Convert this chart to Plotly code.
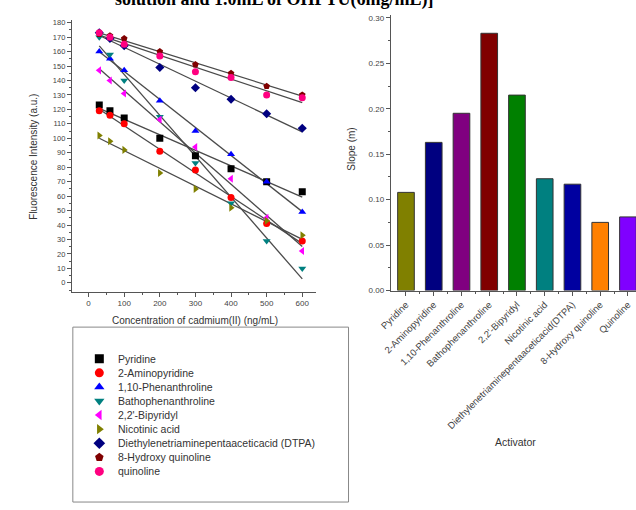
import numpy as np
import plotly.graph_objects as go

# ---- data -------------------------------------------------------------
concentration = [30, 60, 100, 200, 300, 400, 500, 600]

series_names = [
    "Pyridine", "2-Aminopyridine", "1,10-Phenanthroline", "Bathophenanthroline",
    "2,2'-Bipyridyl", "Nicotinic acid", "Diethylenetriaminepentaaceticacid (DTPA)",
    "8-Hydroxy quinoline", "quinoline",
]
pyridine = [123, 119, 114, 100, 88, 79, 70, 63]
aminopyridine = [119, 116, 110, 91, 78, 59, 41, 29]
phenanthroline = [160, 155, 147, 126, 105, 89, 70, 49]
bathophenanthroline = [170, 158, 140, 115, 83, 55, 29, 10]
bipyridyl = [147, 140, 131, 113, 94, 72, 45, 22]
nicotinic_acid = [102, 98, 92, 76, 65, 52, 43, 33]
dtpa = [173, 169, 164, 149, 135, 127, 117, 107]
hydroxyquinoline = [172, 171, 169, 160, 151, 145, 136, 130]
quinoline = [173, 170, 165, 157, 146, 142, 130, 128]
intensities = [pyridine, aminopyridine, phenanthroline, bathophenanthroline,
               bipyridyl, nicotinic_acid, dtpa, hydroxyquinoline, quinoline]

activators = ["Pyridine", "2-Aminopyridine", "1,10-Phenanthroline", "Bathophenanthroline",
              "2,2'-Bipyridyl", "Nicotinic acid", "Diethylenetriaminepentaaceticacid(DTPA)",
              "8-Hydroxy quinoline", "Quinoline"]
slopes = [0.108, 0.163, 0.195, 0.283, 0.215, 0.123, 0.117, 0.075, 0.081]

# ---- styles -----------------------------------------------------------
marker_colors = ["#000000", "#FF0000", "#0000FF", "#008080", "#FF00FF",
                 "#808000", "#000080", "#800000", "#FF0080"]
marker_symbols = ["square", "circle", "triangle-up", "triangle-down", "triangle-left",
                  "triangle-right", "diamond", "pentagon", "circle"]
bar_colors = ["#808000", "#000080", "#800080", "#800000", "#008000",
              "#008080", "#0000A0", "#FF8000", "#8000FF"]

W, H = 636, 510
FONT = "Liberation Sans, Arial, sans-serif"
AX = "#555555"
TXT = "#444444"


def px_x(p):
    return p / W


def px_y(p):
    return 1 - p / H


fig = go.Figure()

# scatter points and their linear fits
for name, ys, col, sym in zip(series_names, intensities, marker_colors, marker_symbols):
    k, b = np.polyfit(concentration, ys, 1)
    xs_fit = [concentration[0], concentration[-1]]
    fig.add_trace(go.Scatter(
        x=xs_fit, y=[k * v + b for v in xs_fit], mode="lines",
        line=dict(color="#4a4a4a", width=1.3), showlegend=False,
        hoverinfo="skip", xaxis="x", yaxis="y"))
for name, ys, col, sym in zip(series_names, intensities, marker_colors, marker_symbols):
    fig.add_trace(go.Scatter(
        x=concentration, y=ys, mode="markers", name=name,
        marker=dict(color=col, symbol=sym, size=7, line=dict(width=0)),
        showlegend=False, xaxis="x", yaxis="y"))

# slope bars
cat_pos = list(range(len(activators)))
fig.add_trace(go.Bar(
    x=cat_pos, y=slopes, width=0.6,
    marker=dict(color=bar_colors, line=dict(color="#333333", width=1)),
    showlegend=False, xaxis="x2", yaxis="y2"))

# legend panel drawn in a pixel-scaled overlay axis
leg_x_marker, leg_x_text, leg_y0, leg_dy = 89, 106, 362, 14.25
leg_y = [leg_y0 + i * leg_dy for i in range(len(series_names))]
fig.add_trace(go.Scatter(
    x=[leg_x_marker] * len(series_names), y=leg_y, mode="markers",
    marker=dict(color=marker_colors, symbol=marker_symbols, size=9, line=dict(width=0)),
    showlegend=False, hoverinfo="skip", xaxis="x3", yaxis="y3"))

annotations = []
for name, yy in zip(series_names, leg_y):
    annotations.append(dict(
        x=leg_x_text, y=yy, xref="x3", yref="y3", text=name, showarrow=False,
        xanchor="left", yanchor="middle", font=dict(family=FONT, size=10.5, color="#333333")))

# axis titles and heading
annotations += [
    dict(x=187, y=323, xref="x3", yref="y3", text="Concentration of cadmium(II) (ng/mL)",
         showarrow=False, font=dict(family=FONT, size=10, color="#333333")),
    dict(x=22, y=158, xref="x3", yref="y3", text="Fluorescence Intensity (a.u.)",
         showarrow=False, textangle=-90, font=dict(family=FONT, size=10, color="#333333")),
    dict(x=346, y=150, xref="x3", yref="y3", text="Slope (m)",
         showarrow=False, textangle=-90, font=dict(family=FONT, size=10, color="#333333")),
    dict(x=513, y=446, xref="x3", yref="y3", text="Activator",
         showarrow=False, font=dict(family=FONT, size=10.5, color="#333333")),
    dict(x=268 / W, y=1 - 11 / H, xref="paper", yref="paper",
         text="<b>solution and 1.0mL of OHPTU(6mg/mL)]</b>",
         showarrow=False, yanchor="bottom", xanchor="center",
         font=dict(family="Liberation Serif, Times New Roman, serif", size=18, color="#000000")),
]

shapes = [dict(type="rect", xref="x3", yref="y3", x0=62, x1=343, y0=330, y1=507,
               line=dict(color="#888888", width=1), fillcolor="rgba(0,0,0,0)")]

tick_font = dict(family=FONT, size=8, color=TXT)

fig.update_layout(
    width=W, height=H, margin=dict(l=0, r=0, t=0, b=0),
    paper_bgcolor="white", plot_bgcolor="rgba(0,0,0,0)",
    annotations=annotations, shapes=shapes,
    xaxis=dict(domain=[px_x(61), px_x(310)], range=[-47, 639], anchor="y",
               showline=True, linecolor=AX, linewidth=1, showgrid=False, zeroline=False,
               tickmode="linear", tick0=0, dtick=100, ticks="outside", ticklen=4,
               tickcolor=AX, tickfont=tick_font,
               minor=dict(dtick=50, ticks="outside", ticklen=2, tickcolor=AX)),
    yaxis=dict(domain=[px_y(294), px_y(19)], range=[-6, 182], anchor="x",
               showline=True, linecolor=AX, linewidth=1, showgrid=False, zeroline=False,
               tickmode="linear", tick0=0, dtick=10, ticks="outside", ticklen=4,
               tickcolor=AX, tickfont=dict(family=FONT, size=7.5, color=TXT),
               minor=dict(dtick=5, ticks="outside", ticklen=2, tickcolor=AX)),
    xaxis2=dict(domain=[px_x(386), 1.0], range=[-0.55, 8.29], anchor="y2",
                showline=True, linecolor=AX, linewidth=1, showgrid=False, zeroline=False,
                tickmode="array", tickvals=cat_pos, ticktext=activators, tickangle=-45,
                ticks="outside", ticklen=4, tickcolor=AX,
                tickfont=dict(family=FONT, size=9.5, color=TXT),
                minor=dict(tickvals=[p + 0.5 for p in cat_pos], ticks="outside",
                           ticklen=2, tickcolor=AX)),
    yaxis2=dict(domain=[px_y(293), px_y(14)], range=[0, 0.3033], anchor="x2",
                showline=True, linecolor=AX, linewidth=1, showgrid=False, zeroline=False,
                tickmode="linear", tick0=0, dtick=0.05, tickformat=".2f",
                ticks="outside", ticklen=4, tickcolor=AX, tickfont=tick_font,
                minor=dict(dtick=0.025, ticks="outside", ticklen=2, tickcolor=AX)),
    xaxis3=dict(domain=[0, 1], range=[0, W], visible=False, fixedrange=True),
    yaxis3=dict(domain=[0, 1], range=[H, 0], visible=False, fixedrange=True),
)

fig.write_html("out.html")
